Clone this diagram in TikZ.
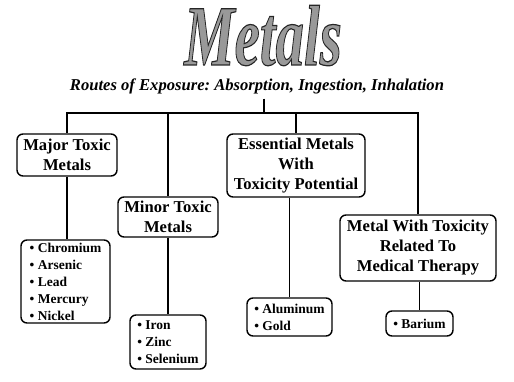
\documentclass[tikz,border=0pt]{standalone}
\usepackage{fontspec}
\setmainfont{Liberation Serif}

\newcommand{\outlined}[1]{\special{pdf:literal direct 0.15 G 1.2 w 2 Tr}#1\special{pdf:literal direct 0 Tr}}

\tikzstyle{heading}=[draw, rounded corners=6pt, line width=1.4pt, align=center, inner sep=0pt, font=\bfseries\fontsize{16.6}{20}\selectfont]
\tikzstyle{items}=[draw, rounded corners=6pt, line width=1.4pt, align=left, inner sep=0pt, font=\bfseries\fontsize{13.5}{17}\selectfont]
\tikzstyle{branch}=[line width=1.5pt]
\tikzstyle{banner}=[inner sep=0pt, anchor=base, text depth=0pt, xscale=0.66, transform shape, font=\bfseries\itshape\fontsize{86}{86}\selectfont]

\begin{document}
\frenchspacing
\begin{tikzpicture}[x=1pt, y=-1pt]
	\useasboundingbox (0,0) rectangle (514,382);

	% Title
	\node[banner, text=black!40] (title) at (263,65) {\outlined{Metals}};
	\node[anchor=base, inner sep=1pt, font=\bfseries\itshape\fontsize{16.6}{18}\selectfont] (routes) at (257,91)
		{Routes of Exposure: Absorption, Ingestion, Inhalation};

	% Groups
	\node[heading, minimum width=100pt, minimum height=42pt] (major) at (67,155) {Major Toxic\\Metals};
	\node[heading, minimum width=100pt, minimum height=40pt] (minor) at (168,217) {Minor Toxic\\Metals};
	\node[heading, minimum width=138pt, minimum height=63pt] (essential) at (296,165.5) {Essential Metals\\With\\Toxicity Potential};
	\node[heading, minimum width=156pt, minimum height=66pt] (therapy) at (418,248) {Metal With Toxicity\\Related To\\Medical Therapy};

	% Members
	\node[items, minimum width=89pt, minimum height=83pt] (majorlist) at (65.5,281.5)
		{\textbullet{} Chromium\\\textbullet{} Arsenic\\\textbullet{} Lead\\\textbullet{} Mercury\\\textbullet{} Nickel};
	\node[items, minimum width=76pt, minimum height=54pt] (minorlist) at (168,342)
		{\textbullet{} Iron\\\textbullet{} Zinc\\\textbullet{} Selenium};
	\node[items, minimum width=85pt, minimum height=38pt] (essentiallist) at (289.5,317)
		{\textbullet{} Aluminum\\\textbullet{} Gold};
	\node[items, minimum width=67pt, minimum height=25pt] (therapylist) at (419.5,323.5)
		{\textbullet{} Barium};

	% Connectors
	\coordinate (bus) at (264,113);
	\draw[branch] ([yshift=-3pt]routes.south -| bus) -- (bus);
	\foreach \n in {major, minor, essential, therapy}{ \draw[branch] (bus) -| (\n); }
	\draw[branch] (major.south) -- (major.south |- majorlist.north);
	\draw[branch] (minor.south) -- (minor.south |- minorlist.north);
	\draw[branch] (essentiallist.north |- essential.south) -- (essentiallist.north);
	\draw[branch] (therapylist.north |- therapy.south) -- (therapylist.north);
\end{tikzpicture}
\end{document}
